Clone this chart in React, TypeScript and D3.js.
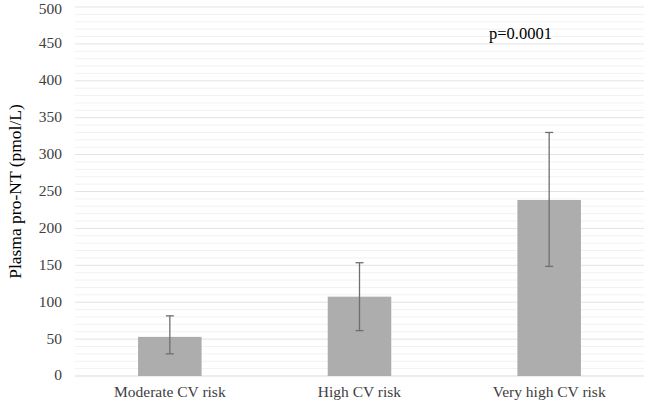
import React, { useEffect, useRef } from "react";
import * as d3 from "d3";

const categories = ["Moderate CV risk", "High CV risk", "Very high CV risk"];
const means = [53, 107.5, 238.5];
const errLow = [30, 61.5, 148.5];
const errHigh = [81.5, 153.5, 330];
const yTicks = [0, 50, 100, 150, 200, 250, 300, 350, 400, 450, 500];
const minorTicks = d3.range(0, 501, 10);
const pLabel = "p=0.0001";

const App = () => {
  const ref = useRef<SVGSVGElement>(null);

  useEffect(() => {
    const svg = d3.select(ref.current);
    svg.selectAll("*").remove();

    const width = 645;
    const height = 404;
    const left = 75;
    const right = 644;
    const top = 7;
    const bottom = 376;
    const font = "'Liberation Serif', 'Times New Roman', serif";

    const x = d3.scaleBand().domain(categories).range([left, right]).paddingInner(0.665).paddingOuter(0.3325);
    const y = d3.scaleLinear().domain([0, 500]).range([bottom, top]);

    svg.attr("width", width).attr("height", height);
    svg.append("rect").attr("width", width).attr("height", height).attr("fill", "#fff");

    // minor gridlines
    svg.append("g")
      .selectAll("line")
      .data(minorTicks.filter((d) => d % 50 !== 0))
      .join("line")
      .attr("x1", left)
      .attr("x2", right)
      .attr("y1", (d) => y(d))
      .attr("y2", (d) => y(d))
      .attr("stroke", "#f2f2f2")
      .attr("stroke-width", 1);

    // major gridlines
    svg.append("g")
      .selectAll("line")
      .data(yTicks)
      .join("line")
      .attr("x1", left)
      .attr("x2", right)
      .attr("y1", (d) => y(d))
      .attr("y2", (d) => y(d))
      .attr("stroke", (d) => (d === 0 ? "#d9d9d9" : "#e3e3e3"))
      .attr("stroke-width", 1);

    // y tick labels (top one nudged down so it is not cut at the edge)
    svg.append("g")
      .selectAll("text")
      .data(yTicks)
      .join("text")
      .attr("x", 62)
      .attr("y", (d) => Math.max(y(d) - 1, 8.5))
      .attr("dy", "0.35em")
      .attr("text-anchor", "end")
      .attr("font-family", font)
      .attr("font-size", 15.5)
      .attr("fill", "#404040")
      .text((d) => d);

    // bars
    const data = categories.map((c, i) => ({ c, m: means[i], lo: errLow[i], hi: errHigh[i] }));
    svg.append("g")
      .selectAll("rect")
      .data(data)
      .join("rect")
      .attr("x", (d) => x(d.c)!)
      .attr("width", x.bandwidth())
      .attr("y", (d) => y(d.m))
      .attr("height", (d) => y(0) - y(d.m))
      .attr("fill", "#adadad");

    // error bars
    const eb = svg.append("g").attr("stroke", "#6f6f6f").attr("stroke-width", 1.3);
    data.forEach((d) => {
      const cx = x(d.c)! + x.bandwidth() / 2;
      eb.append("line").attr("x1", cx).attr("x2", cx).attr("y1", y(d.hi)).attr("y2", y(d.lo));
      eb.append("line").attr("x1", cx - 4).attr("x2", cx + 4).attr("y1", y(d.hi)).attr("y2", y(d.hi));
      eb.append("line").attr("x1", cx - 4).attr("x2", cx + 4).attr("y1", y(d.lo)).attr("y2", y(d.lo));
    });

    // category labels
    svg.append("g")
      .selectAll("text")
      .data(categories)
      .join("text")
      .attr("x", (d) => x(d)! + x.bandwidth() / 2)
      .attr("y", 392)
      .attr("dy", "0.35em")
      .attr("text-anchor", "middle")
      .attr("font-family", font)
      .attr("font-size", 15.5)
      .attr("fill", "#404040")
      .text((d) => d);

    // y axis title
    svg.append("text")
      .attr("transform", `translate(15,${(top + bottom) / 2}) rotate(-90)`)
      .attr("dy", "0.35em")
      .attr("text-anchor", "middle")
      .attr("font-family", font)
      .attr("font-size", 17.5)
      .attr("fill", "#000")
      .text("Plasma pro-NT (pmol/L)");

    // p value
    svg.append("text")
      .attr("x", 489)
      .attr("y", 33)
      .attr("dy", "0.35em")
      .attr("font-family", font)
      .attr("font-size", 16.5)
      .attr("fill", "#000")
      .text(pLabel);
  }, []);

  return (
    <div style={{ position: "absolute", left: 0, top: 0 }}>
      <svg ref={ref} style={{ display: "block" }}></svg>
    </div>
  );
};

export default App;
